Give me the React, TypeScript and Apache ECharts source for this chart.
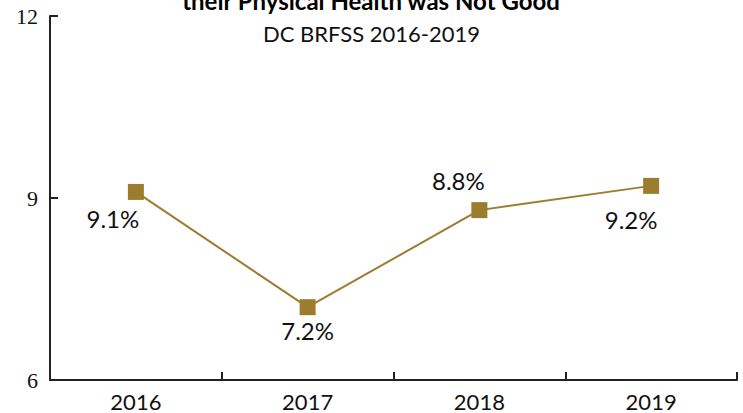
import React, { useEffect, useRef } from "react";
import * as echarts from "echarts";

const categories = ["2016", "2017", "2018", "2019"];
const values = [9.1, 7.2, 8.8, 9.2];
const labelPlacement = ["bottom", "bottom", "top", "bottom"];
const labelOffsets = [[-23, 1], [0, -3], [-21, -4], [-20, 8]];
const yTicks = { min: 6, max: 12, interval: 3 };
const titleText = "their Physical Health was Not Good";
const subtitleText = "DC BRFSS 2016-2019";

export default function App() {
  const ref = useRef<HTMLDivElement>(null);
  useEffect(() => {
    if (!ref.current) return;
    const chart = echarts.init(ref.current, null, { renderer: "svg" });
    const color = "#9C7C2E";
    chart.setOption({
      animation: false,
      backgroundColor: "#ffffff",
      grid: { left: 50, right: 6, top: 16, bottom: 33, containLabel: false },
      graphic: [
        {
          type: "text",
          left: "center",
          top: -12,
          style: {
            text: titleText,
            font: "bold 24px Lato, 'Open Sans', sans-serif",
            fill: "#000",
          },
        },
        {
          type: "text",
          left: "center",
          top: 22,
          style: {
            text: subtitleText,
            font: "22px Lato, 'Open Sans', sans-serif",
            fill: "#111",
          },
        },
      ],
      xAxis: {
        type: "category",
        data: categories,
        boundaryGap: true,
        axisLine: { lineStyle: { color: "#222", width: 2 } },
        axisTick: { show: true, inside: true, length: 8, lineStyle: { color: "#222", width: 2 } },
        axisLabel: {
          color: "#111",
          fontFamily: "Lato, 'Open Sans', sans-serif",
          fontSize: 22,
          margin: 10,
        },
        splitLine: { show: false },
      },
      yAxis: {
        type: "value",
        min: yTicks.min,
        max: yTicks.max,
        interval: yTicks.interval,
        axisLine: { show: true, lineStyle: { color: "#222", width: 2 } },
        axisTick: { show: true, inside: true, length: 8, lineStyle: { color: "#222", width: 2 } },
        axisLabel: {
          color: "#111",
          fontFamily: "'Liberation Serif', serif",
          fontSize: 22,
          margin: 12,
        },
        splitLine: { show: false },
      },
      series: [
        {
          type: "line",
          data: values.map((v, i) => ({
            value: v,
            label: {
              show: true,
              position: labelPlacement[i],
              offset: labelOffsets[i],
            },
          })),
          symbol: "rect",
          symbolSize: 16,
          lineStyle: { color, width: 2 },
          itemStyle: { color },
          label: {
            show: true,
            formatter: (p: any) => p.value.toFixed(1) + "%",
            fontFamily: "Lato, 'Open Sans', sans-serif",
            fontSize: 24,
            color: "#111",
            distance: 6,
          },
        },
      ],
    });
    return () => chart.dispose();
  }, []);
  return <div ref={ref} style={{ width: 743, height: 413, position: "fixed", left: 0, top: 0 }} />;
}
